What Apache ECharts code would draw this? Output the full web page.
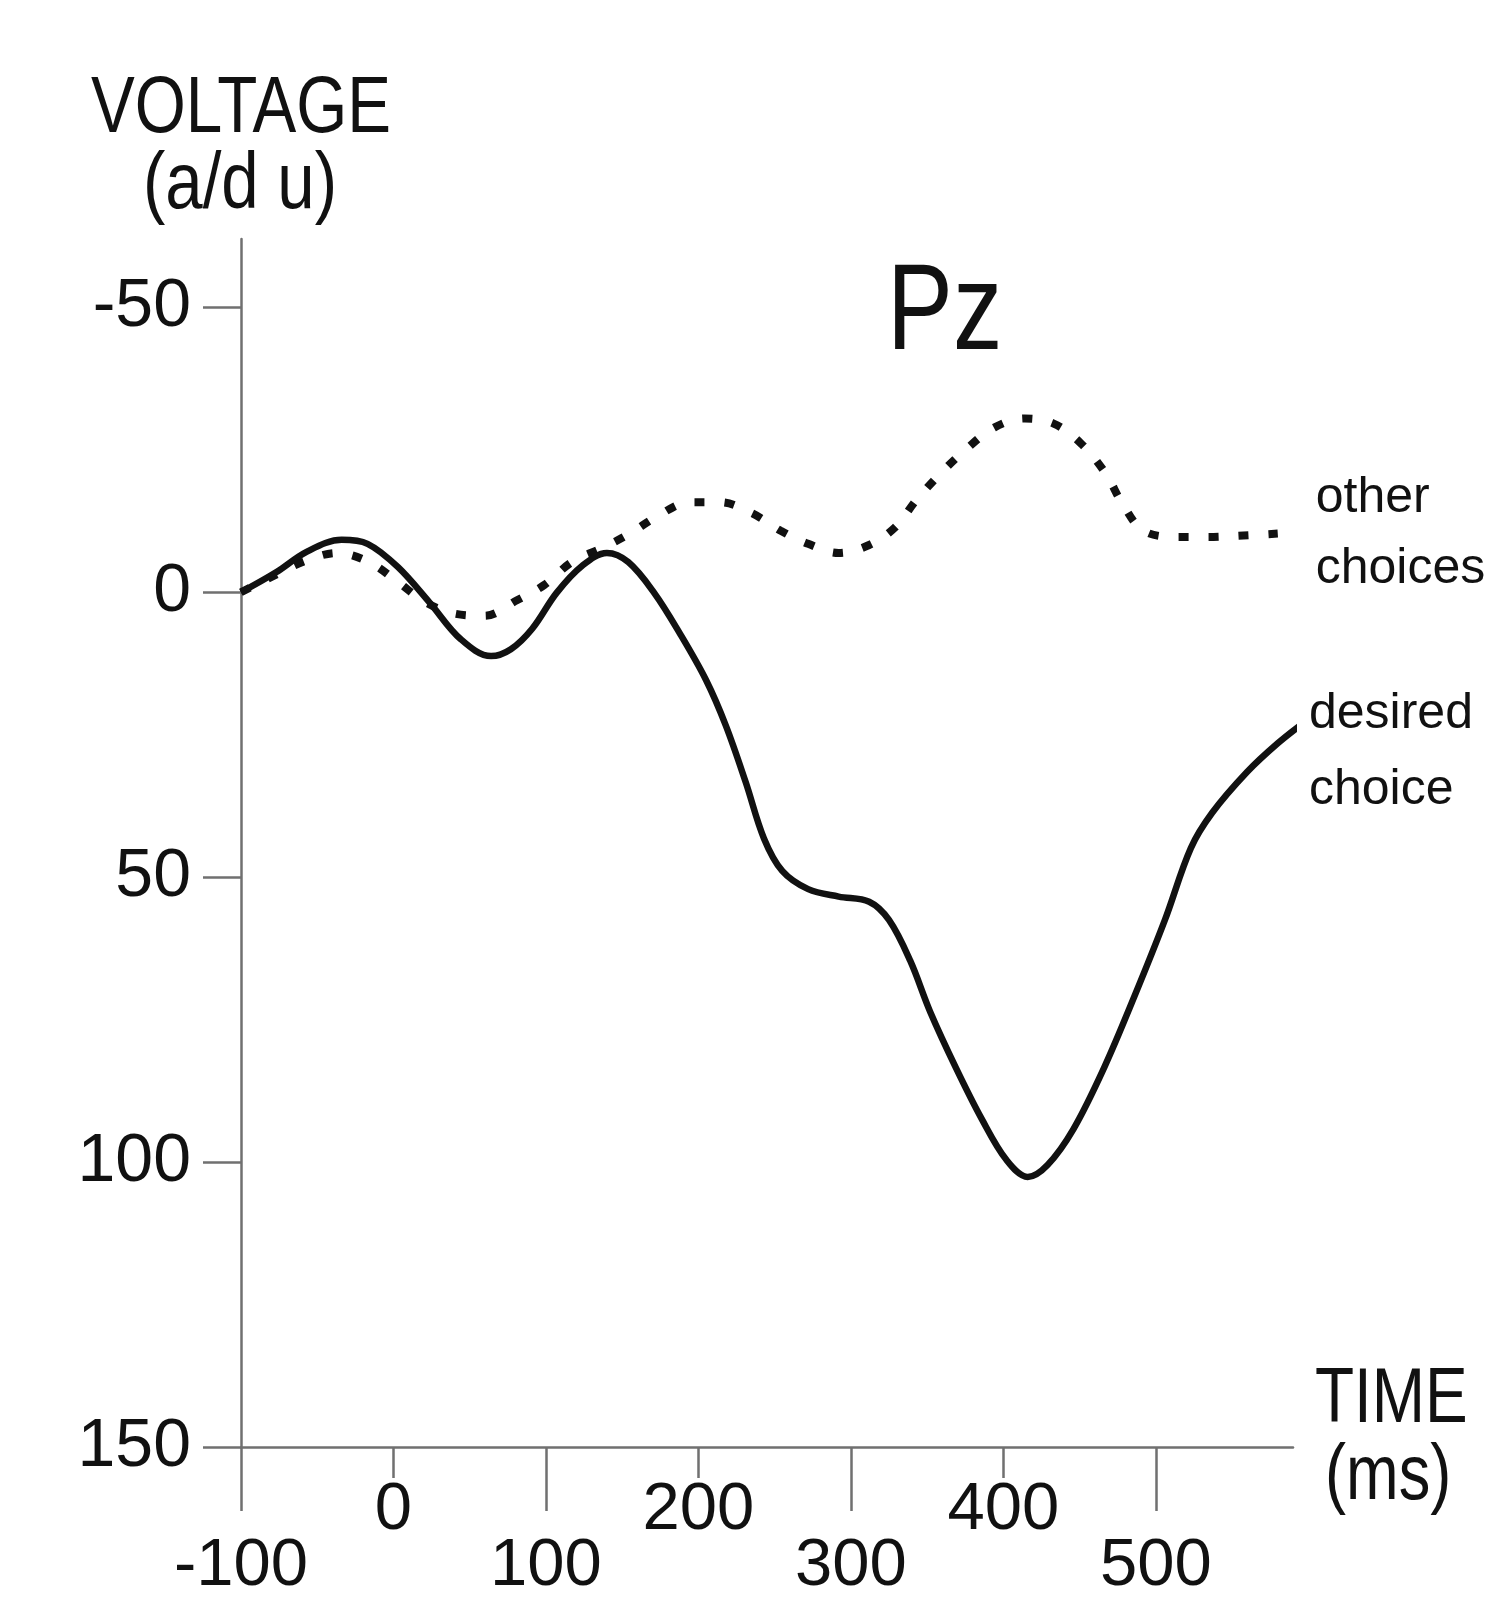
<!DOCTYPE html>
<html>
<head>
<meta charset="utf-8">
<script src="https://cdn.jsdelivr.net/npm/echarts@6/dist/echarts.min.js"></script>
<style>
html,body{margin:0;padding:0;background:#fff;}
#chart{width:1491px;height:1602px;}
</style>
</head>
<body>
<div id="chart"></div>
<script>
// ---- data ----
var chartTitle = 'Pz';
var yAxisTitle = ['VOLTAGE', '(a/d u)'];
var xAxisTitle = ['TIME', '(ms)'];
var yTicks = [-50, 0, 50, 100, 150];
var xTicksLow = [-100, 100, 300, 500];
var xTicksHigh = [0, 200, 400];

var desiredTime = [-100, -77, -57, -34, -17, 3, 24, 44, 64, 77, 91, 107, 124, 140, 154, 171, 188, 205, 218, 231, 243, 255, 272, 292, 312, 325, 339, 352, 369, 386, 402, 416, 429, 446, 466, 486, 506, 523, 537, 560, 580, 597];
var desiredVoltage = [0, -3.5, -7.1, -9.2, -8.5, -4.4, 1.9, 8.2, 11.2, 10.0, 6.4, 0.1, -4.7, -6.9, -5.3, 0.1, 7.3, 15.4, 23.4, 33.3, 43.2, 48.9, 52.1, 53.4, 54.3, 57.5, 64.7, 73.6, 83.5, 92.5, 99.6, 102.6, 100.5, 94.2, 83.5, 70.9, 57.5, 44.9, 38.7, 31.5, 26.5, 22.9];

var otherTime = [-100, -77, -57, -37, -16, 3, 20, 39, 60, 81, 99, 117, 138, 155, 174, 194, 214, 235, 254, 272, 292, 312, 329, 343, 359, 376, 394, 414, 433, 451, 467, 478, 492, 514, 534, 554, 580];
var otherVoltage = [0, -3.1, -5.6, -6.9, -5.3, -1.8, 1.6, 3.7, 4.1, 1.4, -1.3, -5.3, -7.9, -10.3, -13.5, -15.8, -15.8, -13.9, -10.8, -8.5, -6.9, -8.3, -11.4, -16.2, -20.9, -25.2, -28.9, -30.5, -29.6, -26.1, -20.9, -15.6, -10.8, -9.7, -9.7, -9.9, -10.3];

function pairs(ts, vs) { return ts.map(function (t, i) { return [t, vs[i]]; }); }

var FONT = '"Liberation Sans", Arial, Helvetica, sans-serif';
var AXIS_GRAY = '#707070';
var INK = '#111111';

function label(text, x, y, size, align, sx) {
  return {
    type: 'text', x: x, y: y, scaleX: sx, z: 10,
    style: {text: text, fontFamily: FONT, fontSize: size, fill: INK, align: align, verticalAlign: 'middle'}
  };
}

var chart = echarts.init(document.getElementById('chart'), null, {renderer: 'canvas'});
chart.setOption({
  animation: false,
  backgroundColor: '#ffffff',
  graphic: [
    label(chartTitle, 887, 315, 122, 'left', 0.81),
    label(yAxisTitle[0], 241, 110, 80, 'center', 0.82),
    label(yAxisTitle[1], 240, 186, 80, 'center', 0.84),
    label(xAxisTitle[0], 1315, 1400, 78, 'left', 0.82),
    label(xAxisTitle[1], 1325, 1477, 78, 'left', 0.81)
  ],
  grid: {left: 241, right: 198, top: 239, bottom: 155, containLabel: false},
  xAxis: [
    {
      type: 'value', min: -100, max: 590, position: 'bottom',
      axisLine: {show: true, onZero: false, lineStyle: {color: AXIS_GRAY, width: 2.5}},
      axisTick: {show: true, customValues: xTicksLow, length: 64, lineStyle: {color: AXIS_GRAY, width: 2.5}},
      axisLabel: {show: true, customValues: xTicksLow, margin: 86, fontFamily: FONT, fontSize: 67, color: INK},
      splitLine: {show: false}
    },
    {
      type: 'value', min: -100, max: 590, position: 'bottom', offset: 0,
      axisLine: {show: false, onZero: false},
      axisTick: {show: true, customValues: xTicksHigh, length: 31, lineStyle: {color: AXIS_GRAY, width: 2.5}},
      axisLabel: {show: true, customValues: xTicksHigh, margin: 30, fontFamily: FONT, fontSize: 67, color: INK},
      splitLine: {show: false}
    }
  ],
  yAxis: {
    type: 'value', inverse: true, min: -62, max: 150,
    axisLine: {show: true, onZero: false, lineStyle: {color: AXIS_GRAY, width: 2.5}},
    axisTick: {show: true, customValues: yTicks, length: 38, lineStyle: {color: AXIS_GRAY, width: 2.5}},
    axisLabel: {show: true, customValues: yTicks, margin: 50, fontFamily: FONT, fontSize: 68, color: INK},
    splitLine: {show: false}
  },
  series: [
    {
      name: 'other choices', type: 'line', xAxisIndex: 0, data: pairs(otherTime, otherVoltage),
      symbol: 'none', smooth: 0.35, clip: false, z: 2,
      lineStyle: {color: INK, width: 8, type: [10, 20], cap: 'butt'},
      endLabel: {show: true, formatter: 'other\nchoices', distance: 38, fontFamily: FONT, fontSize: 50, lineHeight: 71, color: INK}
    },
    {
      name: 'desired choice', type: 'line', xAxisIndex: 0, data: pairs(desiredTime, desiredVoltage),
      symbol: 'none', smooth: 0.35, clip: false, z: 3,
      lineStyle: {color: INK, width: 6.5},
      endLabel: {show: true, formatter: 'desired\nchoice', distance: 12, offset: [0, 24], fontFamily: FONT, fontSize: 50, lineHeight: 76, color: INK}
    }
  ]
});
</script>
</body>
</html>
